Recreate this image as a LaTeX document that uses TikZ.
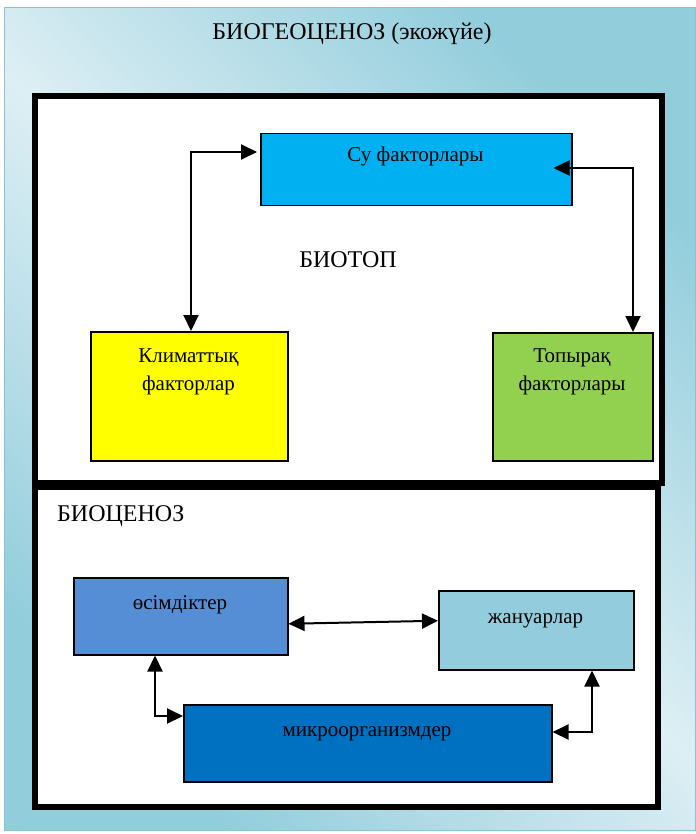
\documentclass[tikz,border=0pt]{standalone}
\usepackage{fontspec}
\setmainfont{Liberation Serif}
\usetikzlibrary{arrows.meta}
\definecolor{aquaDark}{HTML}{92CDDC}
\definecolor{aquaLight}{HTML}{DDEFF4}
\definecolor{aquaEdge}{HTML}{86C4D5}
\definecolor{waterFill}{HTML}{00B0F0}
\definecolor{climateFill}{HTML}{FFFF00}
\definecolor{soilFill}{HTML}{92D050}
\definecolor{plantFill}{HTML}{558ED5}
\definecolor{animalFill}{HTML}{93CDDD}
\definecolor{microFill}{HTML}{0070C0}
\tikzset{
  frame/.style={draw=black, line width=5.5pt, fill=white, inner sep=0pt},
  factor/.style={draw=black, line width=1.5pt, inner sep=0pt, anchor=north west},
  boxtext/.style={anchor=base, inner sep=0pt, font=\fontsize{21}{28}\selectfont},
  headtext/.style={anchor=base, inner sep=0pt, font=\fontsize{24}{30}\selectfont},
  link/.style={line width=2pt, {Triangle[length=16pt,width=15pt]}-{Triangle[length=16pt,width=15pt]}}
}
\begin{document}
\begin{tikzpicture}[x=1pt,y=-1pt]
  \useasboundingbox (0,0) rectangle (695,834);
  \fill[white] (0,0) rectangle (695,834);
  % background panel
  \shade[draw=aquaEdge, line width=1pt, top color=aquaDark, bottom color=aquaDark,
         middle color=aquaLight, shading angle=-45] (4,8) rectangle (695,830);
  \node[headtext] (title) at (352,40) {БИОГЕОЦЕНОЗ (экожүйе)};

  % biotope frame
  \node[frame, minimum width=627pt, minimum height=387pt] (biotop) at (348.5,289.5) {};
  % biocenosis frame
  \node[frame, minimum width=623pt, minimum height=320pt] (biocen) at (346.5,647) {};

  \node[headtext] (biotopT) at (348,267) {БИОТОП};
  \node[headtext, anchor=base west] (biocenT) at (57,521) {БИОЦЕНОЗ};

  % abiotic factors
  \node[factor, fill=waterFill, minimum width=311pt, minimum height=72pt] (water) at (260,133) {};
  \node[boxtext] (waterT) at (415.5,162) {Су факторлары};
  \node[factor, fill=climateFill, minimum width=197pt, minimum height=129pt] (climate) at (90,331) {};
  \node[boxtext] (climateA) at (188.5,362) {Климаттық};
  \node[boxtext] (climateB) at (188.5,390) {факторлар};
  \node[factor, fill=soilFill, minimum width=160pt, minimum height=128pt] (soil) at (492,332) {};
  \node[boxtext] (soilA) at (572,362) {Топырақ};
  \node[boxtext] (soilB) at (572,390) {факторлары};

  % living components
  \node[factor, fill=plantFill, minimum width=214pt, minimum height=77pt] (plant) at (73,577) {};
  \node[boxtext] (plantT) at (180,609) {өсімдіктер};
  \node[factor, fill=animalFill, minimum width=195pt, minimum height=79pt] (animal) at (438,590) {};
  \node[boxtext] (animalT) at (535.5,623) {жануарлар};
  \node[factor, fill=microFill, minimum width=368pt, minimum height=77pt] (micro) at (183,704) {};
  \node[boxtext] (microT) at (367,736) {микроорганизмдер};

  % connectors
  \coordinate (bendA) at (191,152);
  \coordinate (bendB) at (633,168);
  \coordinate (bendC) at (155,716);
  \coordinate (bendD) at (592,732);
  \draw[link] ([xshift=-3pt]water.west |- bendA) -- (bendA) -- (climate.north -| bendA);
  \draw[link] ([xshift=-19pt]water.east |- bendB) -- (bendB) -- (soil.north -| bendB);
  \draw[link] ([yshift=-7.5pt]plant.east) -- ([yshift=9.5pt]animal.west);
  \draw[link] (plant.south -| bendC) -- (bendC) -- (micro.west |- bendC);
  \draw[link] (micro.east |- bendD) -- (bendD) -- (animal.south -| bendD);
\end{tikzpicture}
\end{document}
